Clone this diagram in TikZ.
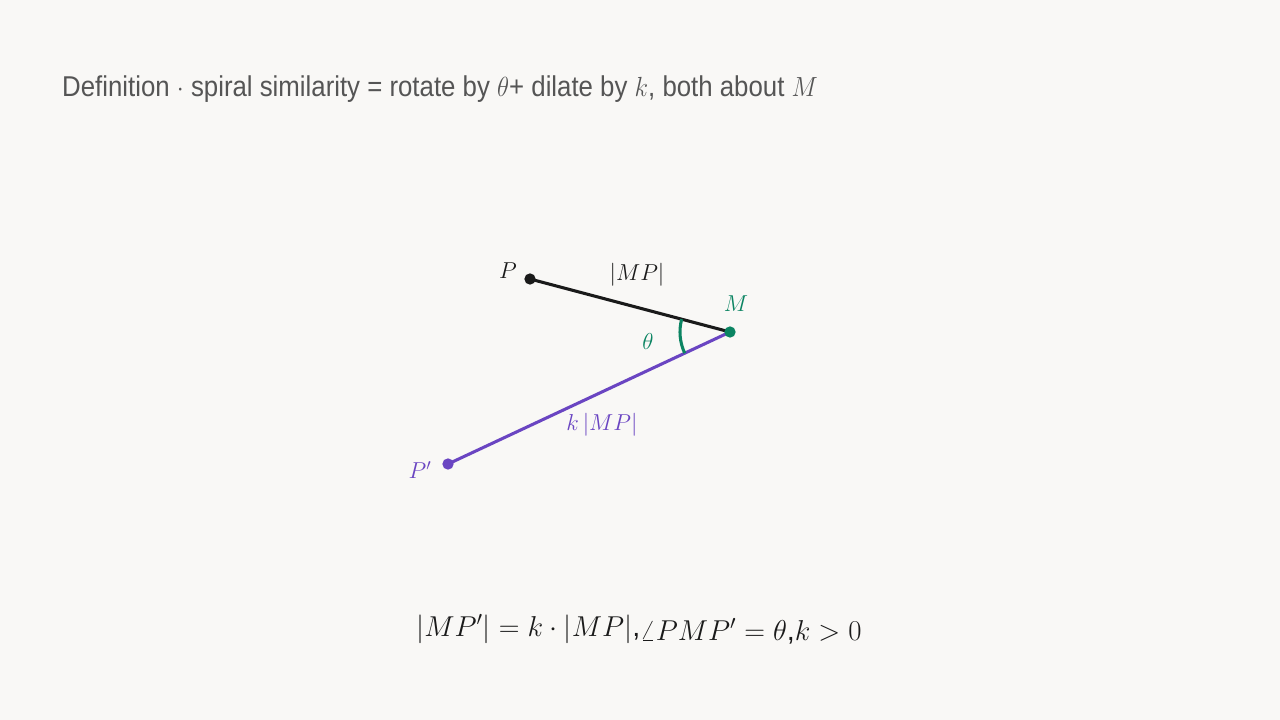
\documentclass[tikz,border=0pt]{standalone}
\usepackage{fontspec}
\setmainfont{Liberation Sans}
\usetikzlibrary{angles}
\definecolor{bgcol}{HTML}{F9F8F6}
\definecolor{inkcol}{HTML}{1A1A1A}
\definecolor{greycol}{HTML}{555555}
\definecolor{greencol}{HTML}{0B8462}
\definecolor{purplecol}{HTML}{6A45C2}
\begin{document}
\begin{tikzpicture}
[x=0.75pt,y=-0.75pt,
  dotdecorate/.style={shape=circle,inner sep=0pt,minimum size=8.5pt,fill=#1},%
  linedecorate/.style={-,line width=2.3pt,draw=#1},%
  labeldecorate/.style={font=\fontsize{17.5}{20}\selectfont,text=#1},%
  lengthdecorate/.style={font=\fontsize{17.5}{20}\selectfont,text=#1}]
%% canvas
\fill[bgcol] (0,0) rectangle (1280,720);
\useasboundingbox (0,0) rectangle (1280,720);
%% title
\node (title) at (62,97) [anchor=base west,inner sep=0pt,xscale=0.9,text=greycol,
  font=\fontsize{21.5}{25}\selectfont]
  {Definition $\cdot$ spiral similarity = rotate by $\theta$+ dilate by $k$, both about $M$};
%% points
\foreach \ptname/\x/\y in {P/530/279, M/730/332, Pp/448/464}
{
  \coordinate (\ptname) at (\x,\y);
}
%% segments
\draw[linedecorate=inkcol] (M) -- (P);
\draw[linedecorate=purplecol] (M) -- (Pp);
\pic[draw=greencol,line width=2.3pt,angle radius=37.5pt] {angle=P--M--Pp};
%% dots
\foreach \ptname/\col in {P/inkcol, M/greencol, Pp/purplecol}
{
  \node (\ptname dot) at (\ptname) [dotdecorate=\col] {};
}
%% labels
\node (Plabel) at (508,271) [labeldecorate=inkcol] {$P$};
\node (Mlabel) at (736,304) [labeldecorate=greencol] {$M$};
\node (Pplabel) at (420,470) [labeldecorate=purplecol] {$P'$};
\node (thetalabel) at (648,341) [labeldecorate=greencol] {$\theta$};
\node (MPlabel) at (637,275) [lengthdecorate=inkcol] {$|MP|$};
\node (kMPlabel) at (602,425) [lengthdecorate=purplecol] {$k\,|MP|$};
%% relation
\node (relation) at (639,636) [anchor=base,scale=1.04,text=inkcol,
  font=\fontsize{20.74}{25}\selectfont]
  {$|MP'|=k\cdot|MP|$,\raisebox{-3pt}{$\angle PMP'=\theta$,$k>0$}};
\end{tikzpicture}
\end{document}
